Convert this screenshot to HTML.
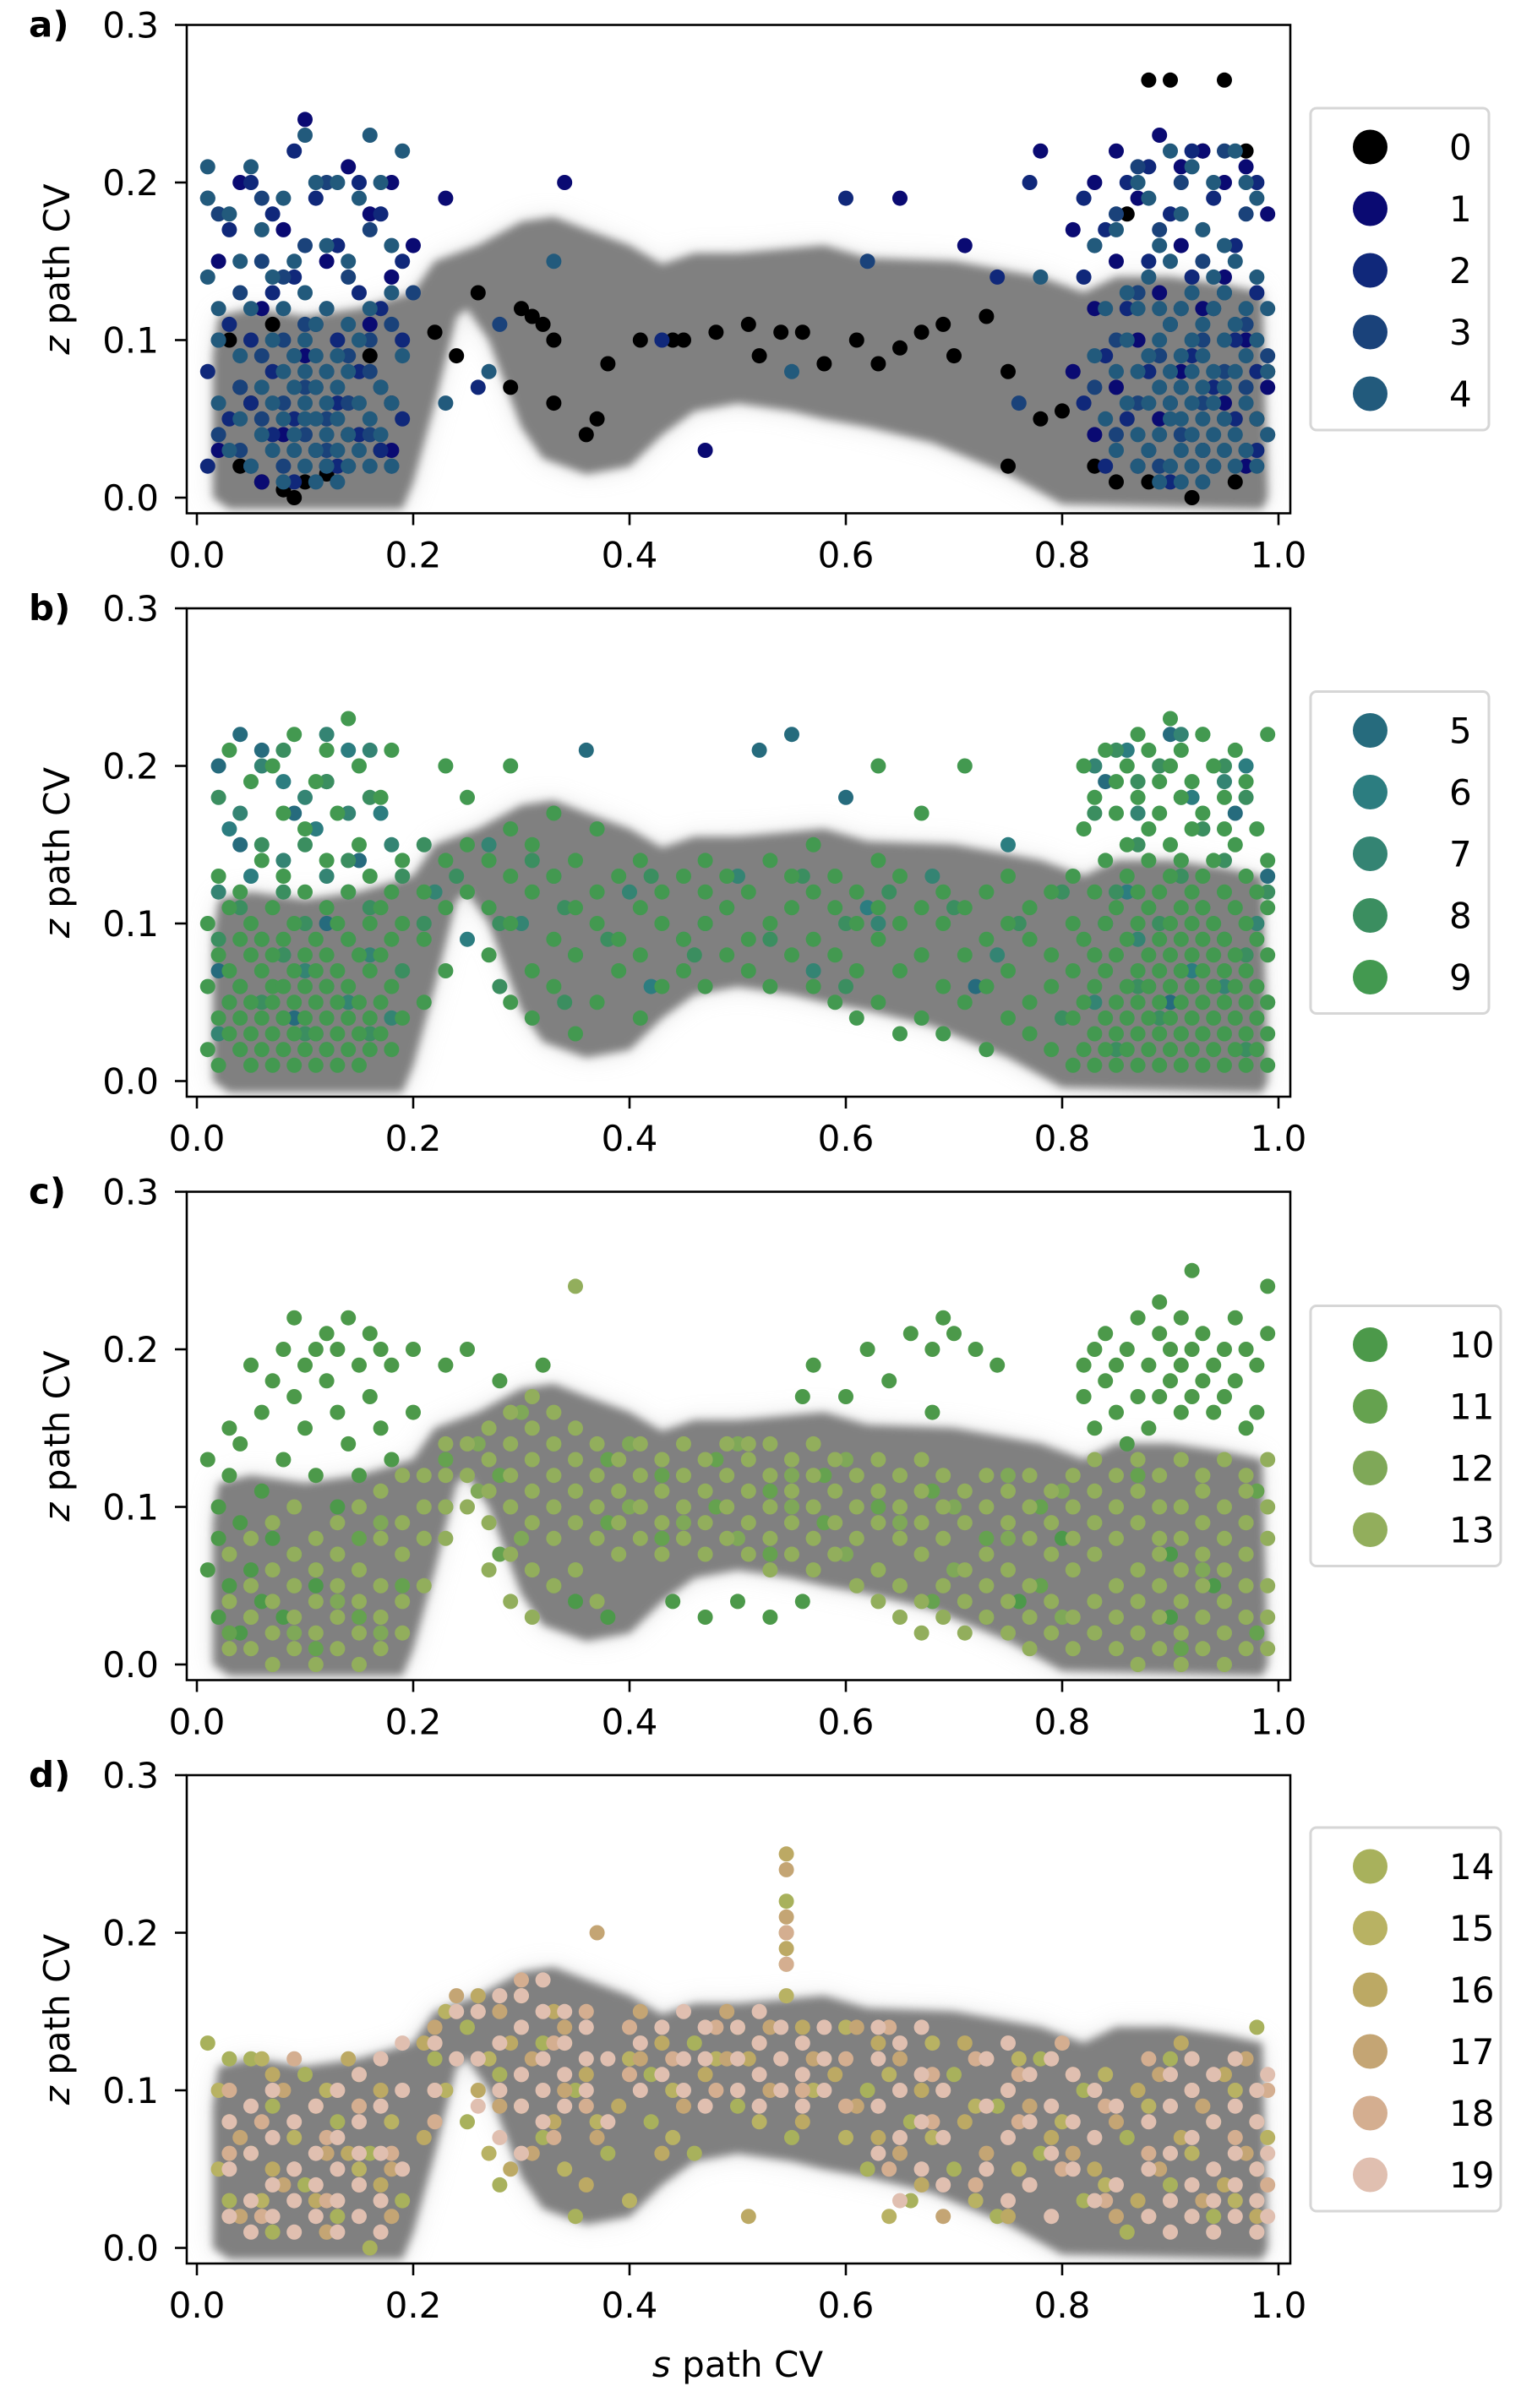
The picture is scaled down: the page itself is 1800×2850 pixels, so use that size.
<!DOCTYPE html>
<html>
<head>
<meta charset="utf-8">
<style>
html,body{margin:0;padding:0;background:#fff;}
svg{display:block;font-family:"DejaVu Sans","Liberation Sans",sans-serif;}
</style>
</head>
<body>
<svg id="fig" width="1800" height="2850" viewBox="0 0 1800 2850" xmlns="http://www.w3.org/2000/svg">
<defs>
<filter id="blur1" x="-10%" y="-10%" width="120%" height="120%"><feGaussianBlur stdDeviation="5"/></filter>
<filter id="blur2" x="-10%" y="-20%" width="120%" height="140%"><feGaussianBlur stdDeviation="14"/></filter>
</defs>
</svg>
<script>
// ---------- data ----------
const panelLabels = ["a)", "b)", "c)", "d)"];
const xTicks = [0.0, 0.2, 0.4, 0.6, 0.8, 1.0];
const xTickLabels = ["0.0", "0.2", "0.4", "0.6", "0.8", "1.0"];
const yTicks = [0.0, 0.1, 0.2, 0.3];
const yTickLabels = ["0.0", "0.1", "0.2", "0.3"];

const categoriesA = ["0", "1", "2", "3", "4"];
const categoriesB = ["5", "6", "7", "8", "9"];
const categoriesC = ["10", "11", "12", "13"];
const categoriesD = ["14", "15", "16", "17", "18", "19"];

const colorsA = ["#000000", "#0a0a72", "#10287a", "#1a427a", "#225a7c"];
const colorsB = ["#266b7d", "#2c7d80", "#348473", "#3b8e60", "#439950"];
const colorsC = ["#4c994a", "#65a24f", "#7fa858", "#92ae5c"];
const colorsD = ["#a8b15c", "#b8b263", "#bca964", "#c4a574", "#d4ae90", "#e0bfb0"];

// density envelope (background) in data coords
const envX = [0.015,0.015,0.02,0.05,0.1,0.15,0.2,0.22,0.26,0.3,0.33,0.36,0.4,0.43,0.46,0.5,0.55,0.58,0.62,0.7,0.78,0.82,0.85,0.9,0.95,0.985,0.99,0.985,0.8,0.75,0.68,0.62,0.58,0.55,0.5,0.46,0.43,0.4,0.36,0.32,0.3,0.27,0.25,0.24,0.22,0.2,0.19,0.03];
const envZ = [0.0,0.09,0.115,0.12,0.115,0.12,0.13,0.15,0.16,0.175,0.178,0.17,0.16,0.148,0.155,0.155,0.158,0.16,0.152,0.15,0.14,0.13,0.14,0.14,0.135,0.13,0.0,-0.007,-0.004,0.015,0.035,0.045,0.05,0.055,0.06,0.055,0.04,0.02,0.015,0.025,0.045,0.1,0.12,0.115,0.06,0.01,-0.007,-0.007];

// series points: [x, [z values...]]
const a0 = [[0.22,[0.105]],[0.24,[0.09]],[0.26,[0.13]],[0.29,[0.07]],[0.3,[0.12]],[0.31,[0.115]],[0.32,[0.11]],[0.33,[0.1,0.06]],[0.36,[0.04]],[0.37,[0.05]],[0.38,[0.085]],[0.41,[0.1]],[0.44,[0.1]],[0.45,[0.1]],[0.48,[0.105]],[0.51,[0.11]],[0.52,[0.09]],[0.54,[0.105]],[0.56,[0.105]],[0.58,[0.085]],[0.61,[0.1]],[0.63,[0.085]],[0.65,[0.095]],[0.67,[0.105]],[0.69,[0.11]],[0.7,[0.09]],[0.73,[0.115]],[0.75,[0.08,0.02]],[0.78,[0.05]],[0.8,[0.055]],[0.88,[0.265]],[0.9,[0.265]],[0.95,[0.265]],[0.04,[0.02]],[0.06,[0.01]],[0.08,[0.005]],[0.09,[0.0]],[0.1,[0.01]],[0.12,[0.015]],[0.05,[0.06]],[0.14,[0.04]],[0.17,[0.03]],[0.03,[0.1]],[0.07,[0.11]],[0.16,[0.09]],[0.18,[0.06]],[0.83,[0.02]],[0.85,[0.01]],[0.88,[0.01]],[0.92,[0.0]],[0.96,[0.01]],[0.98,[0.05]],[0.86,[0.18]],[0.93,[0.22]],[0.97,[0.22]],[0.99,[0.08]]];
const a1 = [[0.02,[0.03,0.15]],[0.04,[0.2,0.07]],[0.06,[0.12,0.01]],[0.08,[0.17,0.04]],[0.1,[0.24,0.09]],[0.12,[0.15,0.02]],[0.14,[0.21,0.06]],[0.16,[0.11,0.18]],[0.18,[0.2,0.14,0.03]],[0.2,[0.16]],[0.23,[0.19]],[0.34,[0.2]],[0.47,[0.03]],[0.65,[0.19]],[0.71,[0.16]],[0.78,[0.22]],[0.81,[0.17,0.08]],[0.83,[0.2,0.12,0.04]],[0.85,[0.22,0.15,0.07]],[0.87,[0.19,0.1,0.02]],[0.89,[0.23,0.13,0.05]],[0.91,[0.21,0.16,0.08]],[0.93,[0.22,0.12,0.03]],[0.95,[0.2,0.14,0.06]],[0.97,[0.21,0.1,0.02]],[0.99,[0.18,0.07]]];
const a2 = [[0.01,[0.02,0.08,0.19]],[0.03,[0.05,0.11,0.17]],[0.05,[0.02,0.06,0.1,0.2]],[0.07,[0.04,0.08,0.13,0.18]],[0.09,[0.01,0.05,0.09,0.14,0.22]],[0.11,[0.03,0.07,0.11,0.19]],[0.13,[0.02,0.06,0.1,0.16]],[0.15,[0.04,0.08,0.13,0.2]],[0.17,[0.03,0.07,0.12,0.18]],[0.19,[0.05,0.1,0.15]],[0.26,[0.07]],[0.43,[0.1]],[0.6,[0.19]],[0.74,[0.14]],[0.77,[0.2]],[0.82,[0.06,0.14,0.19]],[0.84,[0.02,0.09,0.17]],[0.86,[0.05,0.12,0.2]],[0.88,[0.03,0.08,0.15,0.21]],[0.9,[0.01,0.06,0.11,0.18]],[0.92,[0.04,0.09,0.14,0.22]],[0.94,[0.02,0.07,0.12,0.19]],[0.96,[0.05,0.1,0.16]],[0.98,[0.03,0.08,0.13,0.2]]];
const a3 = [[0.02,[0.04,0.1,0.18]],[0.04,[0.03,0.07,0.13]],[0.06,[0.05,0.09,0.15,0.19]],[0.08,[0.02,0.06,0.1,0.14]],[0.1,[0.04,0.07,0.11,0.16]],[0.12,[0.03,0.05,0.08,0.12,0.2]],[0.14,[0.02,0.06,0.09,0.14]],[0.16,[0.04,0.08,0.1,0.17]],[0.18,[0.02,0.06,0.11]],[0.2,[0.13]],[0.28,[0.11]],[0.62,[0.15]],[0.76,[0.06]],[0.83,[0.07,0.16]],[0.85,[0.04,0.1,0.18]],[0.87,[0.06,0.13,0.21]],[0.89,[0.02,0.09,0.17]],[0.91,[0.04,0.07,0.12,0.2]],[0.93,[0.03,0.06,0.1,0.15]],[0.95,[0.05,0.08,0.13,0.22]],[0.97,[0.03,0.07,0.11,0.18]],[0.99,[0.04,0.09]]];
const a4 = [[0.01,[0.21,0.19,0.14]],[0.02,[0.06,0.1,0.12]],[0.03,[0.03,0.18]],[0.04,[0.05,0.09,0.15]],[0.05,[0.02,0.12,0.21]],[0.06,[0.04,0.07,0.17]],[0.07,[0.03,0.06,0.1,0.14]],[0.08,[0.01,0.05,0.08,0.12,0.19]],[0.09,[0.03,0.04,0.07,0.09,0.15]],[0.1,[0.02,0.05,0.06,0.08,0.1,0.13,0.23]],[0.11,[0.01,0.03,0.05,0.07,0.09,0.11,0.2]],[0.12,[0.02,0.04,0.06,0.08,0.12,0.16]],[0.13,[0.01,0.03,0.05,0.07,0.09,0.2]],[0.14,[0.02,0.04,0.08,0.11,0.15]],[0.15,[0.03,0.06,0.1,0.19]],[0.16,[0.02,0.05,0.12,0.23]],[0.17,[0.04,0.07,0.2]],[0.18,[0.02,0.06,0.13,0.16]],[0.19,[0.09,0.22]],[0.23,[0.06]],[0.27,[0.08]],[0.33,[0.15]],[0.55,[0.08]],[0.78,[0.14]],[0.83,[0.09,0.16]],[0.84,[0.05,0.12]],[0.85,[0.03,0.08,0.17]],[0.86,[0.06,0.1,0.13]],[0.87,[0.02,0.04,0.08,0.12,0.2]],[0.88,[0.03,0.06,0.09,0.14,0.19]],[0.89,[0.01,0.04,0.07,0.1,0.12,0.16]],[0.9,[0.02,0.05,0.06,0.08,0.11,0.15,0.22]],[0.91,[0.01,0.03,0.05,0.07,0.09,0.12,0.18]],[0.92,[0.02,0.04,0.06,0.08,0.1,0.13,0.21]],[0.93,[0.01,0.03,0.05,0.07,0.09,0.11,0.17]],[0.94,[0.02,0.04,0.06,0.08,0.12,0.14,0.2]],[0.95,[0.03,0.05,0.07,0.1,0.13,0.16]],[0.96,[0.02,0.04,0.08,0.11,0.15,0.22]],[0.97,[0.03,0.06,0.09,0.12,0.2]],[0.98,[0.02,0.05,0.1,0.14,0.19]],[0.99,[0.04,0.08,0.12]]];

const b5 = [[0.02,[0.2,0.07]],[0.04,[0.22,0.15]],[0.06,[0.21]],[0.09,[0.17,0.04]],[0.12,[0.19,0.1]],[0.15,[0.14]],[0.36,[0.21]],[0.52,[0.21]],[0.55,[0.22]],[0.6,[0.18]],[0.72,[0.06]],[0.84,[0.19,0.1]],[0.9,[0.22,0.05]],[0.96,[0.17]],[0.99,[0.13]]];
const b6 = [[0.03,[0.16,0.05]],[0.05,[0.13]],[0.08,[0.19,0.08]],[0.11,[0.16,0.03]],[0.14,[0.21,0.12]],[0.17,[0.17]],[0.25,[0.09]],[0.33,[0.13]],[0.42,[0.06]],[0.47,[0.1]],[0.62,[0.11]],[0.75,[0.15]],[0.86,[0.21,0.12]],[0.92,[0.18,0.07]],[0.97,[0.2]]];
const b7 = [[0.02,[0.03,0.12]],[0.04,[0.06,0.17]],[0.06,[0.09,0.2]],[0.08,[0.04,0.14]],[0.1,[0.07,0.18]],[0.12,[0.02,0.13,0.22]],[0.14,[0.05,0.17]],[0.16,[0.08,0.21]],[0.18,[0.04,0.15]],[0.22,[0.12]],[0.27,[0.15]],[0.3,[0.1]],[0.35,[0.08]],[0.4,[0.12]],[0.45,[0.09]],[0.5,[0.13]],[0.57,[0.07]],[0.63,[0.1]],[0.68,[0.13]],[0.74,[0.08]],[0.83,[0.05,0.2]],[0.87,[0.09,0.17]],[0.91,[0.03,0.14,0.22]],[0.95,[0.06,0.19]],[0.98,[0.1]]];
const b8 = [[0.02,[0.09,0.18]],[0.04,[0.02,0.11]],[0.06,[0.05,0.15]],[0.08,[0.08,0.12,0.21]],[0.1,[0.03,0.1,0.15]],[0.12,[0.06,0.19]],[0.14,[0.09,0.14]],[0.16,[0.03,0.11,0.18]],[0.19,[0.07,0.13]],[0.21,[0.1,0.15]],[0.24,[0.13]],[0.28,[0.1,0.06]],[0.31,[0.14]],[0.34,[0.11,0.05]],[0.38,[0.09]],[0.42,[0.13]],[0.46,[0.08]],[0.49,[0.11]],[0.53,[0.09]],[0.56,[0.13]],[0.6,[0.1,0.06]],[0.64,[0.12]],[0.67,[0.08]],[0.7,[0.11]],[0.73,[0.06]],[0.76,[0.1]],[0.8,[0.12,0.04]],[0.83,[0.08,0.17]],[0.85,[0.02,0.12,0.21]],[0.87,[0.06,0.15,0.19]],[0.89,[0.04,0.1,0.2]],[0.91,[0.07,0.13,0.18]],[0.93,[0.03,0.11,0.16,0.22]],[0.95,[0.05,0.09,0.14,0.2]],[0.97,[0.02,0.08,0.18]],[0.99,[0.05,0.12]]];
const b9 = [[0.01,[0.02,0.06,0.1]],[0.02,[0.01,0.04,0.08,0.13]],[0.03,[0.03,0.05,0.07,0.11,0.21]],[0.04,[0.02,0.04,0.06,0.09,0.12]],[0.05,[0.01,0.03,0.05,0.08,0.1,0.19]],[0.06,[0.02,0.04,0.07,0.09,0.14]],[0.07,[0.01,0.03,0.05,0.06,0.08,0.11,0.2]],[0.08,[0.02,0.04,0.06,0.09,0.13,0.17]],[0.09,[0.01,0.03,0.05,0.07,0.1,0.22]],[0.1,[0.02,0.04,0.06,0.08,0.12,0.16]],[0.11,[0.01,0.03,0.05,0.07,0.09,0.19]],[0.12,[0.02,0.04,0.06,0.08,0.11,0.14,0.21]],[0.13,[0.01,0.03,0.05,0.07,0.1,0.17]],[0.14,[0.02,0.04,0.06,0.09,0.12,0.23]],[0.15,[0.01,0.03,0.05,0.08,0.15,0.2]],[0.16,[0.02,0.04,0.07,0.1,0.13]],[0.17,[0.03,0.05,0.08,0.11,0.18]],[0.18,[0.02,0.06,0.09,0.12,0.21]],[0.19,[0.04,0.1,0.14]],[0.21,[0.05,0.09,0.12]],[0.23,[0.07,0.11,0.14,0.2]],[0.25,[0.12,0.15,0.18]],[0.27,[0.08,0.11,0.14]],[0.29,[0.05,0.1,0.13,0.16,0.2]],[0.31,[0.04,0.07,0.12,0.15]],[0.33,[0.06,0.09,0.13,0.17]],[0.35,[0.03,0.08,0.11,0.14]],[0.37,[0.05,0.1,0.12,0.16]],[0.39,[0.07,0.09,0.13]],[0.41,[0.04,0.08,0.11,0.14]],[0.43,[0.06,0.1,0.12]],[0.45,[0.07,0.09,0.13]],[0.47,[0.06,0.1,0.12,0.14]],[0.49,[0.08,0.11,0.13]],[0.51,[0.07,0.09,0.12]],[0.53,[0.06,0.1,0.14]],[0.55,[0.08,0.11,0.13]],[0.57,[0.06,0.09,0.12,0.15]],[0.59,[0.05,0.08,0.11,0.13]],[0.61,[0.04,0.07,0.1,0.12]],[0.63,[0.05,0.09,0.11,0.14,0.2]],[0.65,[0.03,0.07,0.1,0.13]],[0.67,[0.04,0.08,0.11,0.17]],[0.69,[0.03,0.06,0.1,0.12]],[0.71,[0.05,0.08,0.11,0.2]],[0.73,[0.02,0.06,0.09,0.12]],[0.75,[0.04,0.07,0.1,0.13]],[0.77,[0.03,0.05,0.09,0.11]],[0.79,[0.02,0.06,0.08,0.12]],[0.81,[0.01,0.04,0.07,0.1,0.13]],[0.82,[0.02,0.05,0.09,0.16,0.2]],[0.83,[0.01,0.03,0.06,0.08,0.12,0.18]],[0.84,[0.02,0.04,0.07,0.1,0.14,0.21]],[0.85,[0.01,0.03,0.05,0.08,0.11,0.17,0.19]],[0.86,[0.02,0.04,0.06,0.09,0.13,0.15,0.2]],[0.87,[0.01,0.03,0.05,0.07,0.1,0.12,0.18,0.22]],[0.88,[0.02,0.04,0.06,0.08,0.11,0.14,0.16,0.21]],[0.89,[0.01,0.03,0.05,0.07,0.09,0.12,0.17,0.19]],[0.9,[0.02,0.04,0.06,0.08,0.1,0.13,0.15,0.2,0.23]],[0.91,[0.01,0.03,0.05,0.07,0.09,0.11,0.14,0.18,0.21]],[0.92,[0.02,0.04,0.06,0.08,0.1,0.12,0.16,0.19]],[0.93,[0.01,0.03,0.05,0.07,0.09,0.11,0.13,0.17,0.22]],[0.94,[0.02,0.04,0.06,0.08,0.1,0.14,0.2]],[0.95,[0.01,0.03,0.05,0.07,0.09,0.12,0.16,0.18]],[0.96,[0.02,0.04,0.06,0.08,0.11,0.15,0.21]],[0.97,[0.01,0.03,0.05,0.07,0.1,0.13,0.19]],[0.98,[0.02,0.04,0.06,0.09,0.12,0.16]],[0.99,[0.01,0.03,0.05,0.08,0.11,0.14,0.22]]];

const c10 = [[0.01,[0.06,0.13]],[0.02,[0.03,0.08,0.1]],[0.03,[0.05,0.12,0.15]],[0.04,[0.02,0.09,0.14]],[0.05,[0.06,0.19]],[0.06,[0.04,0.11,0.16]],[0.07,[0.08,0.18]],[0.08,[0.13,0.2,0.03]],[0.09,[0.17,0.22,0.07]],[0.1,[0.15,0.19]],[0.11,[0.12,0.2,0.05]],[0.12,[0.18,0.21]],[0.13,[0.16,0.2,0.1]],[0.14,[0.14,0.22]],[0.15,[0.19,0.12]],[0.16,[0.17,0.21]],[0.17,[0.15,0.2]],[0.18,[0.13,0.19]],[0.2,[0.2,0.16]],[0.23,[0.19]],[0.25,[0.2]],[0.28,[0.18]],[0.32,[0.19]],[0.35,[0.04]],[0.38,[0.03]],[0.44,[0.04]],[0.47,[0.03]],[0.5,[0.04]],[0.53,[0.03]],[0.56,[0.04,0.17]],[0.57,[0.19]],[0.6,[0.17]],[0.62,[0.2]],[0.64,[0.18]],[0.66,[0.21]],[0.68,[0.2,0.16]],[0.69,[0.22]],[0.7,[0.21]],[0.72,[0.2]],[0.74,[0.19]],[0.76,[0.04]],[0.8,[0.08]],[0.82,[0.19,0.17]],[0.83,[0.2,0.15]],[0.84,[0.18,0.21]],[0.85,[0.16,0.19]],[0.86,[0.2,0.14]],[0.87,[0.17,0.22]],[0.88,[0.19,0.15]],[0.89,[0.21,0.17,0.23]],[0.9,[0.18,0.2,0.03,0.07]],[0.91,[0.16,0.22,0.19]],[0.92,[0.2,0.17,0.25]],[0.93,[0.18,0.21]],[0.94,[0.16,0.19,0.05]],[0.95,[0.2,0.17]],[0.96,[0.18,0.22]],[0.97,[0.15,0.2]],[0.98,[0.19,0.16]],[0.99,[0.21,0.24]]];
const c11 = [[0.03,[0.02,0.07]],[0.07,[0.04,0.09]],[0.11,[0.01,0.06]],[0.15,[0.03,0.08]],[0.19,[0.05]],[0.23,[0.1,0.13]],[0.28,[0.12,0.07]],[0.33,[0.05,0.14]],[0.38,[0.09,0.13]],[0.43,[0.08,0.12]],[0.48,[0.1,0.13]],[0.53,[0.07,0.11]],[0.58,[0.09,0.12]],[0.63,[0.06,0.1]],[0.68,[0.04,0.11]],[0.73,[0.03,0.08]],[0.78,[0.05,0.1]],[0.83,[0.02,0.09]],[0.87,[0.06,0.12]],[0.91,[0.01,0.1]],[0.95,[0.04,0.08]],[0.98,[0.02,0.11]]];
const c12 = [[0.05,[0.03,0.08]],[0.09,[0.05,0.02]],[0.13,[0.07,0.04]],[0.17,[0.02,0.09]],[0.21,[0.08]],[0.26,[0.14,0.11]],[0.3,[0.08,0.16]],[0.35,[0.11,0.06]],[0.4,[0.1,0.14]],[0.45,[0.12,0.09]],[0.5,[0.08,0.14]],[0.55,[0.12,0.1]],[0.6,[0.13,0.07]],[0.65,[0.09,0.12]],[0.7,[0.06,0.1]],[0.75,[0.08,0.12]],[0.8,[0.03,0.11]],[0.85,[0.05,0.1]],[0.89,[0.08,0.03]],[0.93,[0.06,0.12]],[0.97,[0.09,0.03]]];
const c13 = [[0.03,[0.01,0.04,0.07]],[0.05,[0.01,0.03,0.05,0.08]],[0.07,[0.0,0.02,0.04,0.06,0.09]],[0.09,[0.01,0.03,0.05,0.07,0.1]],[0.11,[0.0,0.02,0.04,0.06,0.08]],[0.13,[0.01,0.03,0.05,0.07,0.09]],[0.15,[0.0,0.02,0.04,0.06,0.1]],[0.17,[0.01,0.03,0.05,0.08,0.11]],[0.19,[0.02,0.04,0.07,0.09,0.12]],[0.21,[0.05,0.08,0.1,0.12]],[0.23,[0.08,0.1,0.12,0.14]],[0.25,[0.1,0.12,0.14]],[0.27,[0.06,0.09,0.11,0.13,0.15]],[0.29,[0.04,0.07,0.1,0.12,0.14,0.16]],[0.31,[0.03,0.06,0.09,0.11,0.13,0.15,0.17]],[0.33,[0.05,0.08,0.1,0.12,0.14,0.16]],[0.35,[0.06,0.09,0.11,0.13,0.15,0.24]],[0.37,[0.04,0.08,0.1,0.12,0.14]],[0.39,[0.07,0.09,0.11,0.13]],[0.41,[0.08,0.1,0.12,0.14]],[0.43,[0.07,0.09,0.11,0.13]],[0.45,[0.08,0.1,0.12,0.14]],[0.47,[0.07,0.09,0.11,0.13]],[0.49,[0.08,0.1,0.12,0.14]],[0.51,[0.07,0.09,0.11,0.13,0.14]],[0.53,[0.06,0.08,0.1,0.12,0.14]],[0.55,[0.07,0.09,0.11,0.13]],[0.57,[0.06,0.08,0.1,0.12,0.14]],[0.59,[0.07,0.09,0.11,0.13]],[0.61,[0.05,0.08,0.1,0.12]],[0.63,[0.04,0.06,0.09,0.11,0.13]],[0.65,[0.03,0.05,0.08,0.1,0.12]],[0.67,[0.02,0.04,0.07,0.09,0.11,0.13]],[0.69,[0.03,0.05,0.08,0.1,0.12]],[0.71,[0.02,0.04,0.06,0.09,0.11]],[0.73,[0.03,0.05,0.07,0.1,0.12]],[0.75,[0.02,0.04,0.06,0.09,0.11]],[0.77,[0.01,0.03,0.05,0.08,0.1,0.12]],[0.79,[0.02,0.04,0.07,0.09,0.11]],[0.81,[0.01,0.03,0.06,0.08,0.1,0.12]],[0.83,[0.02,0.04,0.07,0.09,0.11,0.13]],[0.85,[0.01,0.03,0.05,0.08,0.1,0.12]],[0.87,[0.0,0.02,0.04,0.06,0.09,0.11,0.13]],[0.89,[0.01,0.03,0.05,0.07,0.08,0.1,0.12]],[0.91,[0.0,0.02,0.04,0.06,0.08,0.1,0.13]],[0.93,[0.01,0.03,0.05,0.07,0.09,0.11,0.12]],[0.95,[0.0,0.02,0.04,0.06,0.08,0.1,0.13]],[0.97,[0.01,0.03,0.05,0.07,0.09,0.11,0.12]],[0.99,[0.01,0.03,0.05,0.08,0.1,0.13]]];

const d14 = [[0.01,[0.13]],[0.03,[0.12,0.03]],[0.05,[0.12,0.06]],[0.07,[0.09,0.01]],[0.1,[0.04,0.11]],[0.13,[0.02,0.08]],[0.16,[0.06,0.0]],[0.19,[0.03]],[0.22,[0.12]],[0.25,[0.08,0.14]],[0.28,[0.04,0.11]],[0.32,[0.07,0.13]],[0.35,[0.02,0.1]],[0.38,[0.06]],[0.42,[0.11,0.08]],[0.46,[0.13,0.06]],[0.5,[0.09,0.14]],[0.545,[0.22,0.18]],[0.55,[0.07]],[0.58,[0.12]],[0.62,[0.05,0.1]],[0.66,[0.08,0.03]],[0.7,[0.11,0.05]],[0.74,[0.02,0.09]],[0.78,[0.06,0.12]],[0.82,[0.03,0.1]],[0.86,[0.07,0.01]],[0.9,[0.04,0.12]],[0.94,[0.08,0.02]],[0.98,[0.05,0.14]]];
const d15 = [[0.02,[0.05,0.1]],[0.06,[0.03,0.12]],[0.09,[0.07]],[0.12,[0.01,0.1]],[0.15,[0.05,0.11]],[0.18,[0.08]],[0.23,[0.15,0.1]],[0.27,[0.12,0.06]],[0.3,[0.09,0.16]],[0.34,[0.13,0.05]],[0.37,[0.08]],[0.4,[0.12,0.03]],[0.44,[0.1,0.07]],[0.48,[0.12]],[0.52,[0.08,0.13]],[0.545,[0.2,0.16]],[0.57,[0.1]],[0.6,[0.14,0.07]],[0.64,[0.11,0.02]],[0.68,[0.07,0.13]],[0.72,[0.09,0.03]],[0.76,[0.12,0.05]],[0.8,[0.08]],[0.84,[0.11,0.04]],[0.88,[0.09,0.02]],[0.92,[0.06,0.12]],[0.96,[0.1,0.03]],[0.99,[0.07]]];
const d16 = [[0.03,[0.08,0.02]],[0.07,[0.05,0.11]],[0.11,[0.09,0.03]],[0.14,[0.12,0.06]],[0.17,[0.04,0.1]],[0.21,[0.07,0.13]],[0.26,[0.16,0.1]],[0.29,[0.05,0.13]],[0.33,[0.15,0.08]],[0.36,[0.11,0.04]],[0.39,[0.09]],[0.43,[0.13,0.06]],[0.47,[0.11]],[0.51,[0.02,0.12]],[0.545,[0.19,0.25]],[0.56,[0.14,0.08]],[0.59,[0.11]],[0.63,[0.13,0.07]],[0.67,[0.1,0.04]],[0.71,[0.08,0.13]],[0.75,[0.1,0.02]],[0.79,[0.07,0.12]],[0.83,[0.05]],[0.87,[0.1,0.03]],[0.91,[0.07,0.13]],[0.95,[0.04,0.11]],[0.98,[0.08,0.02]]];
const d17 = [[0.04,[0.07,0.02]],[0.08,[0.1,0.04]],[0.12,[0.06,0.01]],[0.15,[0.09]],[0.18,[0.05,0.02]],[0.22,[0.1,0.14]],[0.24,[0.16]],[0.28,[0.09,0.15]],[0.31,[0.12,0.06]],[0.34,[0.14,0.1]],[0.37,[0.2,0.07]],[0.41,[0.12,0.15]],[0.45,[0.09]],[0.49,[0.12,0.15]],[0.53,[0.1,0.14]],[0.545,[0.21,0.24]],[0.57,[0.12]],[0.61,[0.09,0.14]],[0.65,[0.12,0.06]],[0.69,[0.1,0.02]],[0.73,[0.06,0.12]],[0.77,[0.09,0.04]],[0.81,[0.11,0.06]],[0.85,[0.08,0.02]],[0.89,[0.11,0.05]],[0.93,[0.09,0.03]],[0.97,[0.12,0.06]]];
const d18 = [[0.03,[0.06,0.1]],[0.06,[0.02,0.08]],[0.09,[0.05,0.12]],[0.12,[0.07,0.03]],[0.15,[0.09,0.04]],[0.18,[0.06]],[0.22,[0.13,0.08]],[0.26,[0.12,0.15]],[0.3,[0.11,0.17]],[0.33,[0.07,0.13]],[0.36,[0.15,0.09]],[0.4,[0.14,0.11]],[0.44,[0.12]],[0.48,[0.14,0.1]],[0.52,[0.13]],[0.545,[0.2,0.18]],[0.56,[0.1]],[0.6,[0.12,0.09]],[0.64,[0.14,0.05]],[0.68,[0.11,0.08]],[0.72,[0.12,0.04]],[0.76,[0.08,0.11]],[0.8,[0.13,0.05]],[0.84,[0.09,0.03]],[0.88,[0.06,0.12]],[0.92,[0.1,0.02]],[0.96,[0.07,0.12]],[0.99,[0.04,0.1]]];
const d19 = [[0.03,[0.02,0.05,0.08]],[0.05,[0.01,0.03,0.06,0.09]],[0.07,[0.02,0.04,0.07,0.1]],[0.09,[0.01,0.03,0.05,0.08]],[0.11,[0.02,0.04,0.06,0.09]],[0.13,[0.01,0.03,0.05,0.07,0.1]],[0.15,[0.02,0.04,0.06,0.08,0.11]],[0.17,[0.01,0.03,0.06,0.09,0.12]],[0.19,[0.05,0.1,0.13]],[0.22,[0.1,0.13]],[0.24,[0.12,0.15]],[0.26,[0.09,0.12,0.15]],[0.28,[0.07,0.1,0.13,0.16]],[0.3,[0.06,0.09,0.11,0.14,0.16]],[0.32,[0.08,0.1,0.12,0.15,0.17]],[0.34,[0.09,0.11,0.13,0.15]],[0.36,[0.1,0.12,0.14]],[0.38,[0.08,0.12]],[0.41,[0.1,0.13]],[0.43,[0.11,0.14]],[0.45,[0.1,0.12,0.15]],[0.47,[0.09,0.12,0.14]],[0.5,[0.1,0.12,0.14]],[0.52,[0.09,0.11,0.13,0.15]],[0.54,[0.1,0.12,0.14]],[0.56,[0.09,0.11,0.13]],[0.58,[0.1,0.12,0.14]],[0.63,[0.06,0.09,0.12,0.14]],[0.65,[0.03,0.07,0.1,0.13]],[0.67,[0.05,0.08,0.11,0.14]],[0.69,[0.04,0.07,0.1]],[0.73,[0.05,0.09,0.12]],[0.75,[0.03,0.07,0.1,0.13]],[0.77,[0.04,0.08,0.11]],[0.79,[0.02,0.06,0.09,0.12]],[0.81,[0.05,0.08,0.11]],[0.83,[0.03,0.07,0.1]],[0.85,[0.04,0.09]],[0.88,[0.02,0.05,0.08]],[0.9,[0.01,0.03,0.06,0.09,0.11]],[0.92,[0.02,0.04,0.07,0.1,0.12]],[0.94,[0.01,0.03,0.05,0.08,0.11]],[0.96,[0.02,0.04,0.06,0.09,0.12]],[0.98,[0.01,0.03,0.05,0.08,0.1]],[0.99,[0.02,0.06,0.11]]];

const seriesA = [a0, a1, a2, a3, a4];
const seriesB = [b5, b6, b7, b8, b9];
const seriesC = [c10, c11, c12, c13];
const seriesD = [d14, d15, d16, d17, d18, d19];

// ---------- layout ----------
const NS = "http://www.w3.org/2000/svg";
const svg = document.getElementById("fig");
const AX_L = 221, AX_R = 1527, AX_H = 578;
const X0 = 233, XS = 1280;
const DOT_R = 9;
const panelTops = [29.5, 720, 1410.5, 2101];
function xPix(x) { return X0 + x * XS; }
function yPix(z, top) { return top + 559.5 - z * 1865; }

function mk(tag, attrs, parent) {
  const e = document.createElementNS(NS, tag);
  for (const k in attrs) e.setAttribute(k, attrs[k]);
  (parent || svg).appendChild(e);
  return e;
}

function drawPanel(pi, cats, cols, series, legendW) {
  const top = panelTops[pi];
  const g = mk("g", {});
  
  

  const clipId = "clip" + pi;
  const cp = mk("clipPath", { id: clipId }, g);
  mk("rect", { x: AX_L, y: top, width: AX_R - AX_L, height: AX_H }, cp);

  const plot = mk("g", { "clip-path": "url(#" + clipId + ")" }, g);
  
  

  let pts = "";
  for (let i = 0; i < envX.length; i++) pts += xPix(envX[i]).toFixed(1) + "," + yPix(envZ[i], top).toFixed(1) + " ";
  const haze = mk("polygon", { points: pts, fill: "#c8c8c8", opacity: "0.55", filter: "url(#blur2)" }, plot);
  
  
  const env = mk("polygon", { points: pts, fill: "#808080", filter: "url(#blur1)" }, plot);
  
  

  series.forEach((ser, si) => {
    const sg = mk("g", { fill: cols[si] }, plot);
    
    
    ser.forEach(col => {
      col[1].forEach(z => {
        const c = mk("circle", { cx: xPix(col[0]).toFixed(1), cy: yPix(z, top).toFixed(1), r: DOT_R }, sg);
        
        
      });
    });
  });

  const frame = mk("rect", { x: AX_L, y: top, width: AX_R - AX_L, height: AX_H, fill: "none", stroke: "#000", "stroke-width": 2.6 }, g);
  
  

  xTicks.forEach((t, i) => {
    const x = xPix(t);
    const tk = mk("line", { x1: x, x2: x, y1: top + AX_H, y2: top + AX_H + 14, stroke: "#000", "stroke-width": 2.6 }, g);
    
    
    const tx = mk("text", { x: x, y: top + AX_H + 64, "font-size": 42, "text-anchor": "middle" }, g);
    tx.textContent = xTickLabels[i];
    
    
  });
  yTicks.forEach((t, i) => {
    const y = yPix(t, top);
    const tk = mk("line", { x1: AX_L - 14, x2: AX_L, y1: y, y2: y, stroke: "#000", "stroke-width": 2.6 }, g);
    
    
    const tx = mk("text", { x: 188, y: y + 15, "font-size": 42, "text-anchor": "end" }, g);
    tx.textContent = yTickLabels[i];
    
    
  });
  const yl = mk("text", { x: 0, y: 0, "font-size": 42, "text-anchor": "middle", transform: "translate(82," + (top + AX_H / 2) + ") rotate(-90)" }, g);
  
  
  const zi = mk("tspan", { "font-style": "italic" }, yl);
  zi.textContent = "z";
  const rest = mk("tspan", {}, yl);
  rest.textContent = " path CV";

  const pl = mk("text", { x: 34, y: top + 14, "font-size": 42, "font-weight": "bold" }, g);
  pl.textContent = panelLabels[pi];
  
  

  const n = cats.length;
  const bh = 73 * n + 16;
  const by = top + AX_H / 2 - bh / 2;
  const lg = mk("g", {}, g);
  
  
  mk("rect", { x: 1551, y: by, width: legendW, height: bh, rx: 7, fill: "#fff", stroke: "#d6d6d6", "stroke-width": 3 }, lg);
  cats.forEach((c, i) => {
    const cy = by + 46 + 73 * i;
    const e = mk("g", {}, lg);
    
    
    mk("circle", { cx: 1621.5, cy: cy, r: 20.5, fill: cols[i] }, e);
    const t = mk("text", { x: 1715, y: cy + 15, "font-size": 42 }, e);
    t.textContent = c;
  });
}

drawPanel(0, categoriesA, colorsA, seriesA, 211);
drawPanel(1, categoriesB, colorsB, seriesB, 211);
drawPanel(2, categoriesC, colorsC, seriesC, 225);
drawPanel(3, categoriesD, colorsD, seriesD, 225);

const xl = mk("text", { x: xPix(0.5), y: 2813, "font-size": 42, "text-anchor": "middle" });


const si = mk("tspan", { "font-style": "italic" }, xl);
si.textContent = "s";
const sr = mk("tspan", {}, xl);
sr.textContent = " path CV";
</script>
</body>
</html>
